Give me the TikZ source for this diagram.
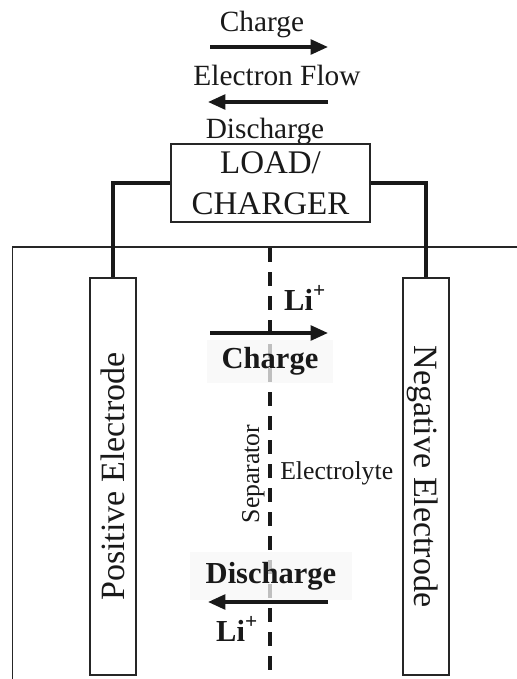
\documentclass[tikz,border=0pt]{standalone}
\usepackage{fontspec}
\setmainfont{Liberation Serif}
\usetikzlibrary{arrows.meta}
\tikzset{
  cell line/.style={draw=black!85, line width=1.3pt},
  elec box/.style={
    rectangle, cell line, fill=white,
    minimum width=34.5pt, minimum height=297.75pt, inner sep=0pt
  },
  load box/.style={
    rectangle, cell line, text=black!90,
    minimum width=149.25pt, minimum height=58.5pt,
    align=center, inner sep=0pt,
    font=\fontsize{24.75}{30.75}\selectfont
  },
  elec text/.style={
    text=black!90, text depth=0pt, inner sep=0pt,
    font=\fontsize{25.5}{30}\selectfont
  },
  flow text/.style={
    anchor=base, text=black!90, inner sep=0pt,
    font=\fontsize{22}{26}\selectfont
  },
  ion text/.style={
    text=black!90, inner sep=0pt,
    font=\fontsize{22.9}{27}\selectfont\bfseries
  },
  ion box/.style={
    ion text, fill=black!3, fill opacity=0.75, text opacity=1
  },
  small text/.style={
    text=black!90, inner sep=0pt,
    font=\fontsize{19.3}{23}\selectfont
  },
  wire/.style={draw=black!90, line width=2.6pt},
  flow arrow/.style={
    -{Triangle[length=13pt, width=11pt]}, line width=2.6pt, draw=black!90
  },
  sep line/.style={
    draw=black!90, line width=2.6pt, dash pattern=on 10.5pt off 7.5pt
  }
}

\begin{document}
\begin{tikzpicture}[x=0.75pt, y=-0.75pt]
  \useasboundingbox (0,0) rectangle (517,679);

  % cell casing and separator
  \coordinate (case bl) at (12.5,679);
  \coordinate (case tr) at (517,247);
  \draw [cell line] (case bl) |- (case tr);
  \coordinate (sep top) at (270,248);
  \coordinate (sep bot) at (270,679);
  \draw [sep line] (sep top) -- (sep bot);

  % external circuit
  \node (flowch) [flow text] at (262,31) {Charge};
  \node (flowel) [flow text] at (277,85) {Electron Flow};
  \node (flowdis) [flow text] at (265,138) {Discharge};
  \coordinate (ea1) at (210,47);
  \coordinate (ea2) at (328,47);
  \coordinate (eb1) at (328,102);
  \coordinate (eb2) at (208,102);
  \draw [flow arrow] (ea1) -- (ea2);
  \draw [flow arrow] (eb1) -- (eb2);
  \node (load) [load box] at (270.5,183) {LOAD/\\CHARGER};

  % electrodes
  \node (pos) [elec box] at (113,476.5) {};
  \node (neg) [elec box] at (426,476.5) {};
  \node (postxt) [elec text, rotate=90] at (pos.center) {Positive Electrode};
  \node (negtxt) [elec text, rotate=-90] at (neg.center) {Negative Electrode};
  \draw [wire] (load.west) -| (pos.north);
  \draw [wire] (load.east) -| (neg.north);

  % ions in the electrolyte
  \node (chlab) [ion box, minimum width=94.5pt, minimum height=32.25pt] at (270,361.5) {Charge};
  \node (dislab) [ion box, minimum width=121.5pt, minimum height=36pt] at (271,576) {Discharge};
  \node (li1) [ion text, anchor=base] at (305,310) {Li\textsuperscript{+}};
  \node (li2) [ion text, anchor=base] at (237,641) {Li\textsuperscript{+}};
  \coordinate (ia1) at (210,333);
  \coordinate (ia2) at (328,333);
  \coordinate (ib1) at (328,602);
  \coordinate (ib2) at (208,602);
  \draw [flow arrow] (ia1) -- (ia2);
  \draw [flow arrow] (ib1) -- (ib2);
  \node (septxt) [small text, rotate=90, anchor=base] at (259,474) {Separator};
  \node (elyte) [small text, anchor=base west] at (280,479) {Electrolyte};
\end{tikzpicture}
\end{document}
